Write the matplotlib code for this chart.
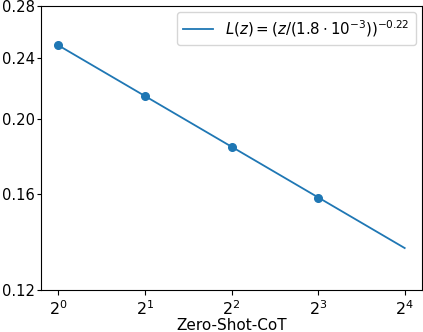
import numpy as np
import matplotlib
matplotlib.use('Agg')
import matplotlib.pyplot as plt
from matplotlib.ticker import LogLocator, LogFormatterMathtext, FixedLocator, FormatStrFormatter, NullLocator


# measured points (x = 2^k)
point_x = [1, 2, 4, 8]
point_y = [0.249, 0.214, 0.184, 0.158]

# fitted power law, endpoints
fit_x = [1, 16]
fit_y = [0.249, 0.136]
fit_label = r'$L(z) = (z/(1.8\cdot10^{-3}))^{-0.22}$'

y_ticks = [0.12, 0.16, 0.20, 0.24, 0.28]
x_label = 'Zero-Shot-CoT'

COLOR = '#1f77b4'


fig = plt.figure(figsize=(4.23, 3.32), dpi=100)
ax = fig.add_axes([41/423, 42/332, 381/423, 284/332])

ax.plot(fit_x, fit_y, color=COLOR, lw=1.3, label=fit_label)
ax.plot(point_x, point_y, 'o', color=COLOR, ms=5.5)

ax.set_xscale('log', base=2)
ax.set_yscale('log')
ax.set_ylim(0.12, 0.28)

ax.xaxis.set_major_locator(LogLocator(base=2))
ax.xaxis.set_major_formatter(LogFormatterMathtext(base=2))
ax.xaxis.set_minor_locator(NullLocator())

ax.yaxis.set_major_locator(FixedLocator(y_ticks))
ax.yaxis.set_major_formatter(FormatStrFormatter('%.2f'))
ax.yaxis.set_minor_locator(NullLocator())

ax.tick_params(axis='y', labelsize=10.6, pad=1.2, length=3)
ax.tick_params(axis='x', labelsize=11.5, pad=3)
ax.set_xlabel(x_label, fontsize=11, labelpad=0)
ax.legend(loc='upper right', fontsize=10.8, borderaxespad=0.4)

fig.savefig('out.png', dpi=100)
